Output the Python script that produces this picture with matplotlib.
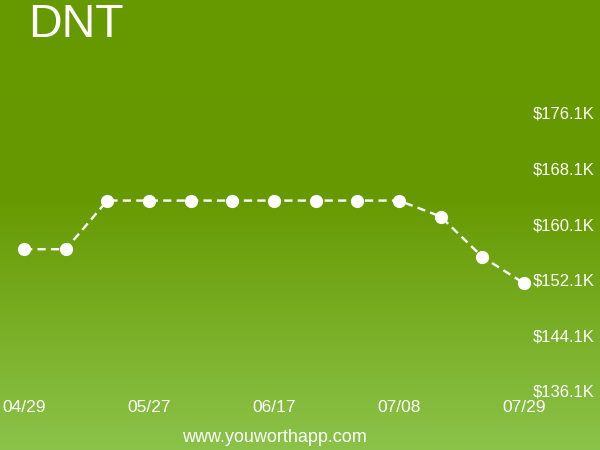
import matplotlib
matplotlib.use('Agg')
import matplotlib.pyplot as plt
import numpy as np
from matplotlib.colors import LinearSegmentedColormap

plt.rcParams['font.family'] = ['Liberation Sans', 'DejaVu Sans']

title = 'DNT'
values = [156.5, 156.5, 163.5, 163.5, 163.5, 163.5, 163.5, 163.5, 163.5, 163.5, 161.2, 155.4, 151.6]
x_label_idx = [0, 3, 6, 9, 12]
x_labels = ['04/29', '05/27', '06/17', '07/08', '07/29']
y_ticks = [176.1, 168.1, 160.1, 152.1, 144.1, 136.1]
footer = 'www.youworthapp.com'

fig = plt.figure(figsize=(6, 4.5), dpi=100)

# background gradient
bg = fig.add_axes([0, 0, 1, 1], zorder=0)
cmap = LinearSegmentedColormap.from_list(
    'bg', [(0.0, '#669900'), (0.45, '#679a02'), (1.0, '#8bc34a')])
grad = np.linspace(0, 1, 256).reshape(-1, 1)
bg.imshow(grad, aspect='auto', cmap=cmap, extent=[0, 1, 0, 1], origin='upper')
bg.set_axis_off()

ax = fig.add_axes([0, 0, 1, 1], zorder=1)
ax.patch.set_alpha(0)
x = np.arange(len(values))
ax.plot(x, values, color='white', linestyle=(0, (3.5, 2.2)), linewidth=1.7,
        marker='o', markersize=8.5, markerfacecolor='white', markeredgecolor='white')

# pixel mapping: idx0 -> 24px, idx12 -> 524px ; 176.1 -> y113px, 136.1 -> y391px
px_per_idx = 500 / 12
ax.set_xlim(-24 / px_per_idx, 12 + 76 / px_per_idx)
k_per_px = 40 / 278
ax.set_ylim(136.1 - 59 * k_per_px, 176.1 + 113 * k_per_px)

ax.set_yticks(y_ticks)
ax.set_yticklabels([f'${v:.1f}K' for v in y_ticks])
ax.yaxis.tick_right()
ax.tick_params(axis='y', length=0, pad=-4, labelsize=12, labelcolor='white')
for lbl in ax.get_yticklabels():
    lbl.set_horizontalalignment('right')

ax.set_xticks(x_label_idx)
ax.set_xticklabels(x_labels)
ax.tick_params(axis='x', length=0, pad=-36, labelsize=12.5, labelcolor='white')

for s in ax.spines.values():
    s.set_visible(False)

fig.text(28 / 600, 1 - 37 / 450, title, color='white', fontsize=33.5,
         ha='left', va='baseline')
fig.text(274 / 600, 1 - 437 / 450, footer, color='white', fontsize=13,
         ha='center', va='center')

plt.savefig('out.png', dpi=100)
plt.close()
